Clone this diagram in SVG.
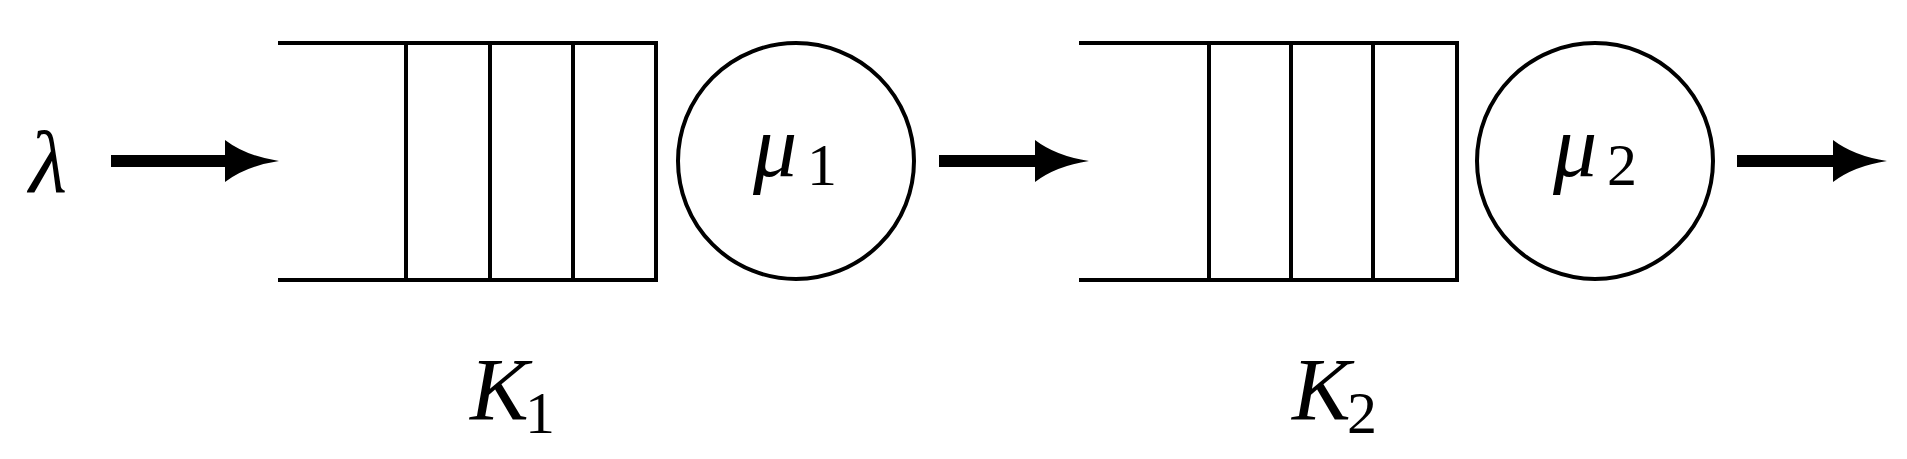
<svg xmlns="http://www.w3.org/2000/svg" width="1907" height="459" viewBox="0 0 1907 459">
<style>
.q{fill:none;stroke:#000;stroke-width:4}
.c{fill:none;stroke:#000;stroke-width:4}
.s{stroke:#000;stroke-width:12}
.h{fill:#000}
text{font-family:"Liberation Serif",serif;fill:#000}
.i{font-style:italic}
</style>
<defs>
<path id="ah" d="M0,0 Q-33,5 -54,21 L-54,-21 Q-33,-5 0,0 Z"/>
</defs>
<g id="lambda"><text class="i" x="29" y="192" font-size="88">λ</text></g>
<g id="queue1">
<path class="q" d="M278,43 H656 V280 H278 M406,43 V280 M490,43 V280 M573,43 V280"/>
<text x="470" y="419" font-size="88" class="i">K</text><text x="525" y="433" font-size="60">1</text>
</g>
<g id="server1">
<circle class="c" cx="796" cy="161" r="118"/>
<text x="753" y="176" font-size="88" class="i">μ</text><text x="807" y="185" font-size="60">1</text>
</g>
<g id="queue2">
<path class="q" d="M1079,43 H1457 V280 H1079 M1209,43 V280 M1291,43 V280 M1373,43 V280"/>
<text x="1292" y="419" font-size="88" class="i">K</text><text x="1347" y="433" font-size="60">2</text>
</g>
<g id="server2">
<circle class="c" cx="1595" cy="161" r="118"/>
<text x="1553" y="176" font-size="88" class="i">μ</text><text x="1607" y="185" font-size="60">2</text>
</g>
<g id="connectors">
<line class="s" x1="111" y1="161" x2="250" y2="161"/><use href="#ah" x="279" y="161" class="h"/>
<line class="s" x1="939" y1="161" x2="1060" y2="161"/><use href="#ah" x="1089" y="161" class="h"/>
<line class="s" x1="1737" y1="161" x2="1858" y2="161"/><use href="#ah" x="1887" y="161" class="h"/>
</g>
</svg>
